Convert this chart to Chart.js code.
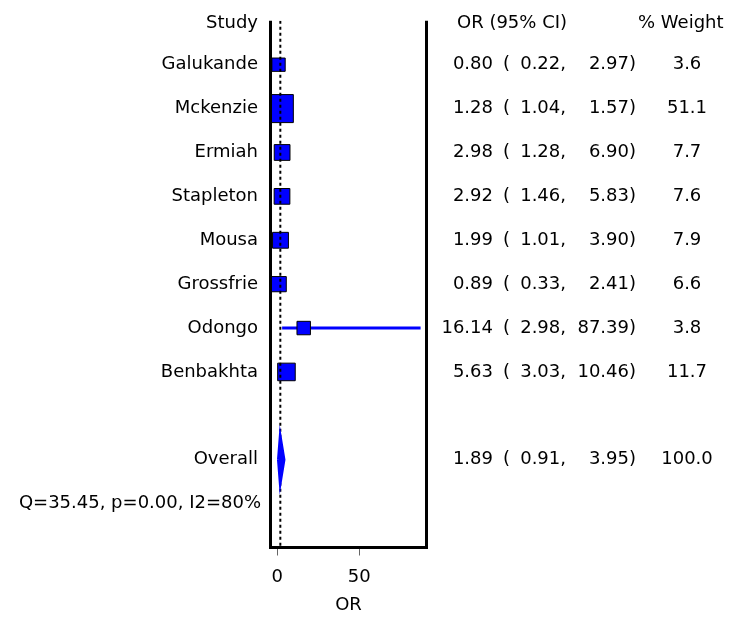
<!DOCTYPE html>
<html>
<head>
<meta charset="utf-8">
<title>Forest plot - OR</title>
<script src="https://cdn.jsdelivr.net/npm/chart.js@4.4.1/dist/chart.umd.min.js"></script>
<style>
    body { margin: 0; background: #fff; }
    #wrap { width: 740px; height: 619px; }
</style>
</head>
<body>
<div id="wrap"><canvas id="forest" width="740" height="619"></canvas></div>
<script>
// Studies and values
const studies = ['Galukande', 'Mckenzie', 'Ermiah', 'Stapleton', 'Mousa', 'Grossfrie', 'Odongo', 'Benbakhta'];
const oddsRatio = [0.80, 1.28, 2.98, 2.92, 1.99, 0.89, 16.14, 5.63];
const ciLower = [0.22, 1.04, 1.28, 1.46, 1.01, 0.33, 2.98, 3.03];
const ciUpper = [2.97, 1.57, 6.90, 5.83, 3.90, 2.41, 87.39, 10.46];
const weights = [3.6, 51.1, 7.7, 7.6, 7.9, 6.6, 3.8, 11.7];

// Pooled estimate
const overallOR = 1.89;
const overallLower = 0.91;
const overallUpper = 3.95;
const overallWeight = 100.0;
const heterogeneity = 'Q=35.45, p=0.00, I2=80%';

// Axis
const xTicks = [0, 50];
const xMin = -4.1;
const xMax = 91;

// Row layout (header = row 0)
const overallRow = studies.length + 2;
const hetRow = overallRow + 1;
const yMax = hetRow + 1;

const FAMILY = 'DejaVu Sans';
const FONT = '18px "' + FAMILY + '"';

function boxRadius(w) {
    // square side grows with weight; rect point side = radius * sqrt(2)
    return (8 + 2.8 * Math.sqrt(w)) / Math.SQRT2;
}

// CI segments, separated by gaps
const ciData = [];
studies.forEach((s, i) => {
    ciData.push({ x: ciLower[i], y: i + 1 }, { x: ciUpper[i], y: i + 1 }, { x: ciUpper[i], y: null });
});

const forestText = {
    id: 'forestText',
    afterDatasetsDraw(chart) {
        const { ctx, chartArea: a, scales: { y } } = chart;
        const rowY = r => y.getPixelForValue(r);
        ctx.save();

        // frame sides
        ctx.strokeStyle = '#000';
        ctx.lineWidth = 3;
        ctx.beginPath();
        ctx.moveTo(a.left, a.top);
        ctx.lineTo(a.left, a.bottom + 1.5);
        ctx.moveTo(a.right, a.top);
        ctx.lineTo(a.right, a.bottom + 1.5);
        ctx.stroke();

        ctx.font = FONT;
        ctx.fillStyle = '#000';
        ctx.textBaseline = 'middle';

        // left labels
        ctx.textAlign = 'right';
        ctx.fillText('Study', 258, rowY(0) + 2.5);
        studies.forEach((s, i) => ctx.fillText(s, 258, rowY(i + 1)));
        ctx.fillText('Overall', 258, rowY(overallRow));
        ctx.fillText(heterogeneity, 261, rowY(hetRow));

        // right table
        ctx.textAlign = 'left';
        ctx.fillText('OR (95% CI)', 457, rowY(0) + 2.5);
        ctx.fillText('% Weight', 638, rowY(0) + 2.5);

        const rows = studies.map((s, i) => [oddsRatio[i], ciLower[i], ciUpper[i], weights[i], i + 1]);
        rows.push([overallOR, overallLower, overallUpper, overallWeight, overallRow]);
        rows.forEach(([est, lo, hi, w, r]) => {
            const yy = rowY(r);
            ctx.textAlign = 'right';
            ctx.fillText(est.toFixed(2), 493, yy);
            ctx.textAlign = 'left';
            ctx.fillText('(', 503, yy);
            ctx.textAlign = 'right';
            ctx.fillText(lo.toFixed(2) + ',', 566, yy);
            ctx.fillText(hi.toFixed(2) + ')', 636, yy);
            ctx.textAlign = 'center';
            ctx.fillText(w.toFixed(1), 687, yy);
        });
        ctx.restore();
    }
};

new Chart(document.getElementById('forest'), {
    type: 'scatter',
    data: {
        datasets: [
            {
                // pooled diamond
                data: [
                    { x: overallLower, y: overallRow },
                    { x: overallOR, y: overallRow - 0.47 },
                    { x: overallUpper, y: overallRow },
                    { x: overallOR, y: overallRow + 0.47 },
                    { x: overallLower, y: overallRow }
                ],
                showLine: true,
                fill: 'shape',
                backgroundColor: '#0000ff',
                borderColor: '#0000ff',
                borderWidth: 3.5,
                pointRadius: 0,
                order: 0
            },
            {
                // dotted line at pooled OR
                data: [{ x: overallOR, y: 0 }, { x: overallOR, y: yMax }],
                showLine: true,
                borderColor: '#000',
                borderWidth: 2,
                borderDash: [3, 3],
                pointRadius: 0,
                order: 1
            },
            {
                // study boxes
                data: studies.map((s, i) => ({ x: oddsRatio[i], y: i + 1 })),
                pointStyle: 'rect',
                pointRadius: weights.map(boxRadius),
                pointBackgroundColor: '#0000ff',
                pointBorderColor: '#000',
                pointBorderWidth: 1,
                clip: 0,
                order: 2
            },
            {
                // confidence intervals
                data: ciData,
                showLine: true,
                spanGaps: false,
                borderColor: '#0000ff',
                borderWidth: 3,
                pointRadius: 0,
                order: 3
            }
        ]
    },
    options: {
        responsive: false,
        devicePixelRatio: 1,
        animation: false,
        layout: { padding: { left: 270.5, right: 313.5, top: 17, bottom: 0 } },
        plugins: { legend: { display: false }, tooltip: { enabled: false } },
        scales: {
            x: {
                type: 'linear',
                min: xMin,
                max: xMax,
                afterBuildTicks: s => { s.ticks = xTicks.map(v => ({ value: v })); },
                afterFit: s => { s.height = 71.5; },
                border: { display: true, color: '#000', width: 3 },
                grid: { drawOnChartArea: false, drawTicks: true, tickLength: 8, tickColor: '#666', tickWidth: 1 },
                ticks: { color: '#000', font: { family: FAMILY, size: 18 }, padding: 11, maxRotation: 0 },
                title: { display: true, text: 'OR', color: '#000', font: { family: FAMILY, size: 18 }, padding: { top: 0, bottom: 3 } }
            },
            y: { type: 'linear', min: 0, max: yMax, reverse: true, display: false }
        }
    },
    plugins: [forestText]
});
</script>
</body>
</html>
